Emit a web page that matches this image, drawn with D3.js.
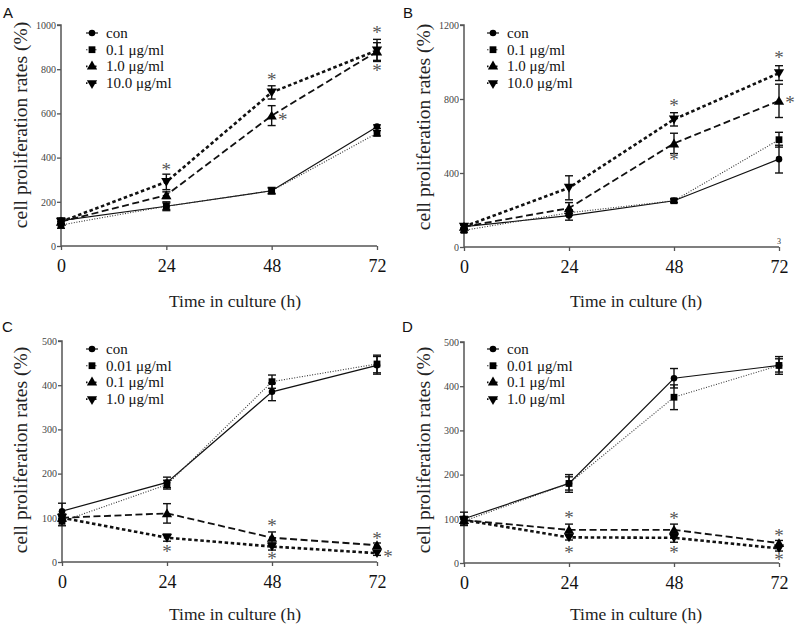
<!DOCTYPE html>
<html><head><meta charset="utf-8">
<script src="https://cdn.jsdelivr.net/npm/d3@7"></script>
<style>body{margin:0;background:#fff}svg{display:block}</style>
</head><body><svg id="c" width="800" height="632"></svg>
<script>
const times = [0, 24, 48, 72];
const legendAB = ["con", "0.1 μg/ml", "1.0 μg/ml", "10.0 μg/ml"];
const legendCD = ["con", "0.01 μg/ml", "0.1 μg/ml", "1.0 μg/ml"];
const yTicksA = [0, 200, 400, 600, 800, 1000];
const yTicksB = [0, 400, 800, 1200];
const yTicksCD = [0, 100, 200, 300, 400, 500];

// Panel A
const aCon = [115, 180, 250, 540];
const aLow = [95, 180, 250, 510];
const aMid = [110, 230, 590, 880];
const aHigh = [110, 290, 695, 885];
const aConErr = [12, 15, 12, 8];
const aLowErr = [15, 20, 15, 12];
const aMidErr = [10, 15, 45, 40];
const aHighErr = [10, 35, 30, 50];
const starsA = [[24, 359, 0], [48, 763, 0], [48, 585, 1], [72, 977, 0], [72, 804, 0]];

// Panel B
const bCon = [110, 170, 250, 475];
const bLow = [90, 185, 250, 580];
const bMid = [110, 210, 560, 790];
const bHigh = [110, 320, 690, 940];
const bConErr = [10, 25, 10, 75];
const bLowErr = [10, 15, 10, 40];
const bMidErr = [10, 30, 55, 90];
const bHighErr = [10, 65, 36, 40];
const starsB = [[48, 776, 0], [48, 487, 0], [72, 1038, 0], [72, 794, 1]];

// Panel C
const cCon = [115, 180, 385, 445];
const cLow = [92, 175, 408, 448];
const cMid = [100, 110, 55, 38];
const cHigh = [100, 55, 35, 20];
const cConErr = [18, 12, 20, 20];
const cLowErr = [10, 10, 15, 20];
const cMidErr = [8, 22, 13, 5];
const cHighErr = [8, 8, 8, 5];
const starsC = [[24, 29, 0], [48, 88, 0], [48, 13, 0], [72, 58, 0], [72, 17, 1]];

// Panel D
const dCon = [100, 180, 418, 447];
const dLow = [95, 180, 375, 447];
const dMid = [97, 75, 75, 45];
const dHigh = [97, 58, 57, 33];
const dConErr = [15, 20, 22, 20];
const dLowErr = [10, 15, 28, 15];
const dMidErr = [8, 13, 13, 6];
const dHighErr = [8, 6, 10, 6];
const starsD = [[24, 108, 0], [24, 29, 0], [48, 106, 0], [48, 30, 0], [72, 68, 0], [72, 14, 0]];

const styles = [
  {sym: d3.symbolCircle, size: 34, rot: 0, w: 1.2, dash: null, col: "#111"},
  {sym: d3.symbolSquare, size: 46, rot: 0, w: 1.1, dash: "1,1.6", col: "#333"},
  {sym: d3.symbolTriangle, size: 46, rot: 0, w: 1.8, dash: "7,3.5", col: "#111"},
  {sym: d3.symbolTriangle, size: 46, rot: 180, w: 2.6, dash: "3.5,2.6", col: "#111"}
];

const panels = [
  {label: "A", lx: 3, ly: 18, x0: 61, x1: 377, yb: 246, yt: 25, max: 1000, ticks: yTicksA, legend: legendAB,
   series: [aCon, aLow, aMid, aHigh], errs: [aConErr, aLowErr, aMidErr, aHighErr], stars: starsA,
   legX: 92, legY: 33, ytx: 27, yty: 125, xtx: 235, xty: 307},
  {label: "B", lx: 403, ly: 18, x0: 464, x1: 779, yb: 247, yt: 25, max: 1200, ticks: yTicksB, legend: legendAB,
   series: [bCon, bLow, bMid, bHigh], errs: [bConErr, bLowErr, bMidErr, bHighErr], stars: starsB,
   legX: 493, legY: 33, ytx: 430, yty: 127, xtx: 636, xty: 307},
  {label: "C", lx: 2, ly: 332, x0: 62, x1: 377, yb: 562, yt: 341, max: 500, ticks: yTicksCD, legend: legendCD,
   series: [cCon, cLow, cMid, cHigh], errs: [cConErr, cLowErr, cMidErr, cHighErr], stars: starsC,
   legX: 92, legY: 349, ytx: 27, yty: 450, xtx: 235, xty: 620},
  {label: "D", lx: 402, ly: 332, x0: 464, x1: 779, yb: 563, yt: 342, max: 500, ticks: yTicksCD, legend: legendCD,
   series: [dCon, dLow, dMid, dHigh], errs: [dConErr, dLowErr, dMidErr, dHighErr], stars: starsD,
   legX: 493, legY: 349, ytx: 430, yty: 450, xtx: 636, xty: 620}
];

const svg = d3.select("#c");
const serif = "'Liberation Serif', 'Times New Roman', serif";
const axisCol = "#555";

panels.forEach(p => {
  const g = svg.append("g");
  const x = d3.scaleLinear().domain([0, 72]).range([p.x0, p.x1]);
  const y = d3.scaleLinear().domain([0, p.max]).range([p.yb, p.yt]);

  g.append("text").attr("x", p.lx).attr("y", p.ly).text(p.label)
    .style("font-family", "'Liberation Sans', Arial, sans-serif").style("font-size", "15px").attr("fill", "#111");

  // y axis
  const ya = g.append("g").attr("transform", `translate(${p.x0},0)`)
    .call(d3.axisLeft(y).tickValues(p.ticks).tickSize(4).tickPadding(1).tickFormat(d3.format("d")));
  ya.attr("font-family", null);
  ya.select(".domain").attr("stroke", axisCol).attr("stroke-width", 1.5).attr("d", `M-4,${p.yt}H0V${p.yb}`);
  ya.selectAll(".tick line").attr("stroke", axisCol).attr("stroke-width", 1.3);
  ya.selectAll(".tick text").style("font-family", serif).style("font-size", "10px").attr("fill", "#444");

  // x axis
  const xa = g.append("g").attr("transform", `translate(0,${p.yb})`)
    .call(d3.axisBottom(x).tickValues(times).tickSize(4).tickPadding(9).tickFormat(d3.format("d")));
  xa.attr("font-family", null);
  xa.select(".domain").attr("stroke", axisCol).attr("stroke-width", 1.5).attr("d", `M${p.x0},0H${p.x1}`);
  xa.selectAll(".tick line").attr("stroke", axisCol).attr("stroke-width", 1.3);
  xa.selectAll(".tick text").style("font-family", serif).style("font-size", "18px").attr("fill", "#111");

  // titles
  g.append("text").attr("transform", `translate(${p.ytx},${p.yty}) rotate(-90)`)
    .attr("text-anchor", "middle").style("font-family", serif).style("font-size", "19.5px").attr("fill", "#222")
    .text("cell proliferation rates (%)");
  g.append("text").attr("x", p.xtx).attr("y", p.xty).attr("text-anchor", "middle")
    .style("font-family", serif).style("font-size", "17.5px").attr("fill", "#222").text("Time in culture (h)");

  // lines
  const line = d3.line().x((d, i) => x(times[i])).y(d => y(d));
  p.series.forEach((s, k) => {
    const st = styles[k];
    g.append("path").datum(s).attr("d", line).attr("fill", "none").attr("stroke", st.col)
      .attr("stroke-width", st.w).attr("stroke-dasharray", st.dash);
  });
  // error bars
  p.series.forEach((s, k) => {
    s.forEach((v, i) => {
      const e = p.errs[k][i], cx = x(times[i]);
      const eg = g.append("g").attr("stroke", "#111").attr("stroke-width", 1.4);
      eg.append("line").attr("x1", cx).attr("x2", cx).attr("y1", y(v - e)).attr("y2", y(v + e));
      eg.append("line").attr("x1", cx - 4).attr("x2", cx + 4).attr("y1", y(v + e)).attr("y2", y(v + e));
      eg.append("line").attr("x1", cx - 4).attr("x2", cx + 4).attr("y1", y(v - e)).attr("y2", y(v - e));
    });
  });
  // markers
  p.series.forEach((s, k) => {
    const st = styles[k];
    const sym = d3.symbol().type(st.sym).size(st.size);
    g.selectAll(null).data(s).enter().append("path").attr("d", sym)
      .attr("transform", (d, i) => `translate(${x(times[i])},${y(d) + (st.sym === d3.symbolTriangle ? (st.rot ? -1 : 1) : 0)}) rotate(${st.rot})`)
      .attr("fill", "#000");
  });
  // asterisks
  g.selectAll(null).data(p.stars).enter().append("text")
    .attr("x", d => x(d[0]) + (d[2] ? 11 : 0)).attr("y", d => y(d[1]) + 9)
    .attr("text-anchor", "middle").style("font-family", serif).style("font-size", "19px").attr("fill", "#555").text("*");

  // legend
  p.legend.forEach((t, k) => {
    const st = styles[k];
    const ly = p.legY + k * 16.7;
    g.append("line").attr("x1", p.legX - 6).attr("x2", p.legX + 6).attr("y1", ly).attr("y2", ly)
      .attr("stroke", st.col).attr("stroke-width", Math.min(st.w, 1.6)).attr("stroke-dasharray", st.dash ? "1.5,1.5" : null);
    g.append("path").attr("d", d3.symbol().type(st.sym).size(st.size)())
      .attr("transform", `translate(${p.legX},${ly}) rotate(${st.rot})`).attr("fill", "#000");
    g.append("text").attr("x", p.legX + 14).attr("y", ly + 5).text(t)
      .style("font-family", serif).style("font-size", "15px").attr("fill", "#111");
  });
});
// small stray label in panel B
svg.append("text").attr("x", 779).attr("y", 244).attr("text-anchor", "middle")
  .style("font-family", serif).style("font-size", "8px").attr("fill", "#333").text("3");
</script></body></html>
